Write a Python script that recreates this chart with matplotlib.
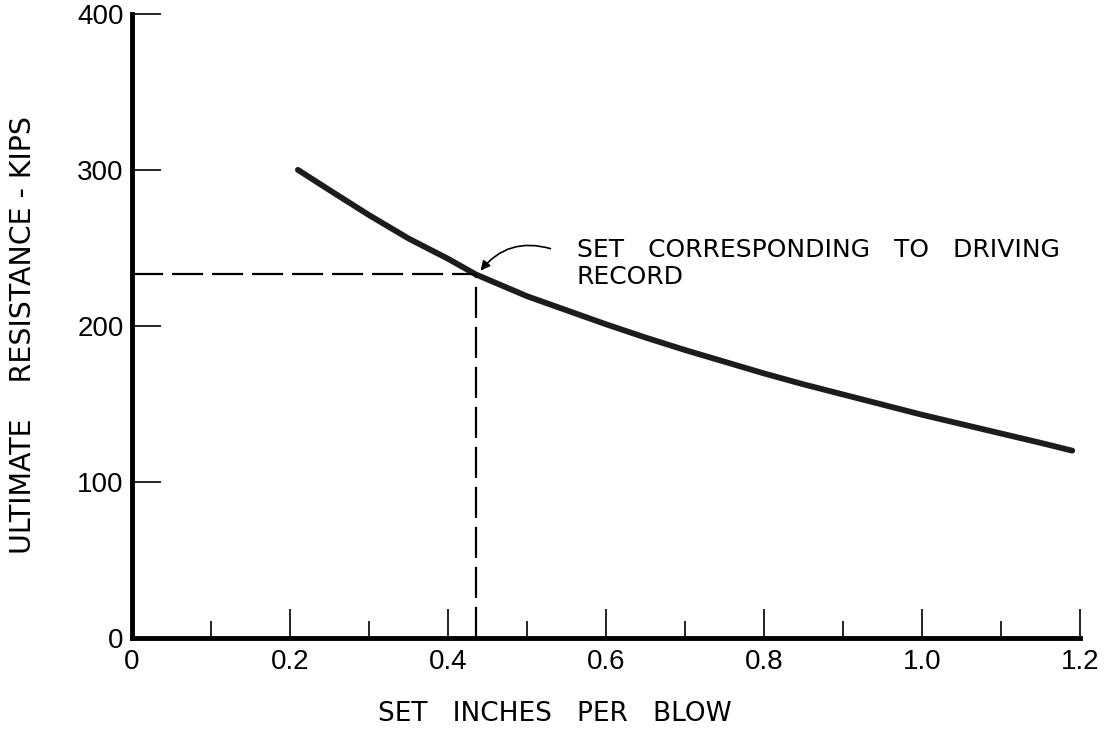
import numpy as np
import matplotlib
matplotlib.use('Agg')
import matplotlib.pyplot as plt

# values
set_in = [0.21, 0.25, 0.30, 0.35, 0.40, 0.435, 0.50, 0.55, 0.60, 0.65, 0.70,
          0.75, 0.80, 0.85, 0.90, 0.95, 1.00, 1.05, 1.10, 1.15, 1.19]
resistance = [300, 287, 271, 256, 243, 233, 219, 210, 201, 192.5, 184.5,
              177, 169.5, 162.5, 156, 149.5, 143, 137, 131, 125, 120]

record_set = 0.435
record_res = 233

x_major = [0, 0.2, 0.4, 0.6, 0.8, 1.0, 1.2]
x_major_labels = ['0', '0.2', '0.4', '0.6', '0.8', '1.0', '1.2']
x_minor = [0.1, 0.3, 0.5, 0.7, 0.9, 1.1]
y_major = [0, 100, 200, 300, 400]

plt.rcParams['font.family'] = ['Liberation Sans', 'DejaVu Sans']

fig = plt.figure(figsize=(11.09, 7.29), dpi=100)
ax = fig.add_axes([0.119, 0.125, 0.855, 0.856])

ax.plot(set_in, resistance, color='#1c1c1c', lw=4.2, solid_capstyle='round',
        solid_joinstyle='round')
ax.plot([0, record_set], [record_res, record_res], color='k', lw=1.6, ls=(0, (14, 4)))
ax.plot([record_set, record_set], [0, record_res], color='k', lw=1.6, ls=(0, (14, 4)))

ax.annotate('', xy=(record_set + 0.004, record_res + 1), xytext=(0.533, 249),
            arrowprops=dict(arrowstyle='-|>', lw=1.2, color='k',
                            connectionstyle='arc3,rad=0.35', mutation_scale=14))
ax.text(0.563, 256, 'SET   CORRESPONDING   TO   DRIVING\nRECORD',
        fontsize=18, va='top', ha='left', linespacing=1.15, family='DejaVu Sans')

ax.set_xlim(0, 1.2)
ax.set_ylim(0, 400)
for s in ['top', 'right']:
    ax.spines[s].set_visible(False)
for s in ['left', 'bottom']:
    ax.spines[s].set_linewidth(3.5)

ax.set_xticks(x_major)
ax.set_xticklabels(x_major_labels)
ax.set_xticks(x_minor, minor=True)
ax.set_yticks(y_major)
ax.tick_params(axis='both', which='major', direction='in', length=21, width=1.2,
               labelsize=20, pad=8)
ax.tick_params(axis='x', which='minor', direction='in', length=12, width=1.2)
ax.tick_params(axis='y', which='major', pad=6)

fig.text(0.5, 0.02, 'SET   INCHES   PER   BLOW', fontsize=19, ha='center',
         va='center', family='DejaVu Sans')
fig.text(0.021, 0.54, 'ULTIMATE    RESISTANCE - KIPS', fontsize=20.5, ha='center',
         va='center', rotation=90, family='DejaVu Sans')

fig.savefig('out.png', dpi=100)
